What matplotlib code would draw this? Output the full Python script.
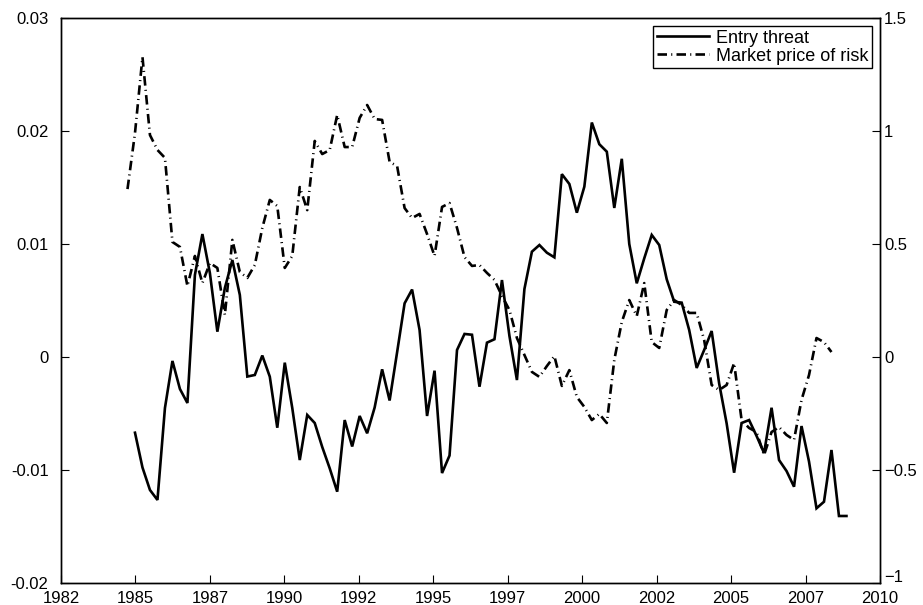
import matplotlib
matplotlib.use("Agg")
import matplotlib.pyplot as plt
import matplotlib.transforms as mtransforms
import numpy as np

plt.rcParams['font.family'] = ['Liberation Sans', 'DejaVu Sans']

# quarterly series
entry_threat = [
    -0.0067, -0.00978, -0.01177, -0.01265, -0.00451, -0.00035, -0.00283, -0.00407,
    0.00726, 0.01088, 0.00743, 0.00224, 0.00611, 0.00858, 0.00549, -0.00173,
    -0.00159, 0.00013, -0.00174, -0.00626, -0.0005, -0.00451, -0.00912, -0.00513,
    -0.00584, -0.00796, -0.00985, -0.01192, -0.00558, -0.00792, -0.00522, -0.00675,
    -0.00447, -0.00109, -0.00385, 0.00042, 0.00475, 0.00597, 0.00239, -0.00522,
    -0.00121, -0.01027, -0.00872, 0.00062, 0.00204, 0.00197, -0.00263, 0.00127,
    0.00157, 0.00681, 0.00186, -0.00204, 0.00602, 0.00932, 0.00991, 0.00923,
    0.00882, 0.01618, 0.01531, 0.01277, 0.01507, 0.02075, 0.01883, 0.01817,
    0.01319, 0.01754, 0.01, 0.00652, 0.00873, 0.0108, 0.00991, 0.00688,
    0.00489, 0.00481, 0.00239, -0.00097, 0.00062, 0.0023, -0.00233, -0.00587,
    -0.01024, -0.00584, -0.00558, -0.00699, -0.0085, -0.00449, -0.00912, -0.01009,
    -0.01148, -0.00611, -0.00925, -0.01339, -0.01281, -0.00823, -0.01407, -0.01407,
]
market_price_of_risk = [
    0.743, 0.991, 1.327, 0.982, 0.916, 0.881, 0.509, 0.487, 0.314, 0.447,
    0.327, 0.416, 0.394, 0.186, 0.518, 0.376, 0.35, 0.407, 0.571, 0.695,
    0.668, 0.394, 0.447, 0.752, 0.65, 0.956, 0.898, 0.916, 1.071, 0.929,
    0.929, 1.058, 1.115, 1.053, 1.049, 0.863, 0.845, 0.659, 0.615, 0.633,
    0.544, 0.447, 0.664, 0.681, 0.571, 0.442, 0.403, 0.407, 0.372, 0.341,
    0.27, 0.208, 0.084, 0.009, -0.066, -0.088, -0.04, 0.004, -0.128, -0.058,
    -0.177, -0.221, -0.279, -0.252, -0.292, -0.013, 0.155, 0.252, 0.181, 0.327,
    0.066, 0.04, 0.208, 0.252, 0.23, 0.195, 0.195, 0.075, -0.124, -0.146,
    -0.124, -0.027, -0.279, -0.314, -0.332, -0.434, -0.332, -0.31, -0.345, -0.367,
    -0.19, -0.08, 0.084, 0.066, 0.022,
]
et_dates = 1985.0 + 0.25 * np.arange(len(entry_threat))
mpr_dates = 1984.75 + 0.25 * np.arange(len(market_price_of_risk))

x_labels = ['1982', '1985', '1987', '1990', '1992', '1995', '1997', '2000',
            '2002', '2005', '2007', '2010']
left_ticks = [-0.02, -0.01, 0, 0.01, 0.02, 0.03]
left_labels = ['-0.02', '-0.01', '0', '0.01', '0.02', '0.03']
right_ticks = [-1, -0.5, 0, 0.5, 1, 1.5]
right_labels = ['\u22121', '\u22120.5', '0', '0.5', '1', '1.5']

fig = plt.figure(figsize=(9.23, 6.05), dpi=100)
ax = fig.add_axes([61 / 923, 22 / 605, 819 / 923, 565 / 605])
ax2 = ax.twinx()

l1, = ax.plot(et_dates, entry_threat, color='black', lw=1.9, solid_joinstyle='miter')
l2, = ax2.plot(mpr_dates, market_price_of_risk, color='black', lw=1.9,
               linestyle=(0, (3.6, 1.6, 0.4, 1.6)))

x0, x1 = 1982.53, 2009.87
ax.set_xlim(x0, x1)
ax.set_xticks(np.linspace(x0, x1, 12))
ax.set_xticklabels(x_labels)
ax.set_ylim(-0.02, 0.03)
ax.set_yticks(left_ticks)
ax.set_yticklabels(left_labels)
ax2.set_ylim(-1, 1.5)
ax2.set_yticks(right_ticks)
ax2.set_yticklabels(right_labels)

for a in (ax, ax2):
    a.tick_params(direction='in', length=6, width=0.8, labelsize=12)
    for s in a.spines.values():
        s.set_linewidth(1.0)
ax.tick_params(axis='x', pad=6)
ax.tick_params(axis='y', right=False, pad=9)
ax2.tick_params(axis='y', left=False, pad=3)

# MATLAB lifts the bottom right label a little so it clears the x labels
bottom = ax2.get_yticklabels()[0]
bottom.set_transform(bottom.get_transform() +
                     mtransforms.ScaledTranslation(0, 7 / 100, fig.dpi_scale_trans))

leg = ax2.legend([l1, l2], ['Entry threat', 'Market price of risk'],
                 loc='upper right', fontsize=13, fancybox=False, framealpha=1,
                 edgecolor='black', borderpad=0.2, handlelength=2.9,
                 labelspacing=0.05, handletextpad=0.35, borderaxespad=0.45)
leg.get_frame().set_linewidth(1.0)

fig.savefig('out.png', dpi=100)
